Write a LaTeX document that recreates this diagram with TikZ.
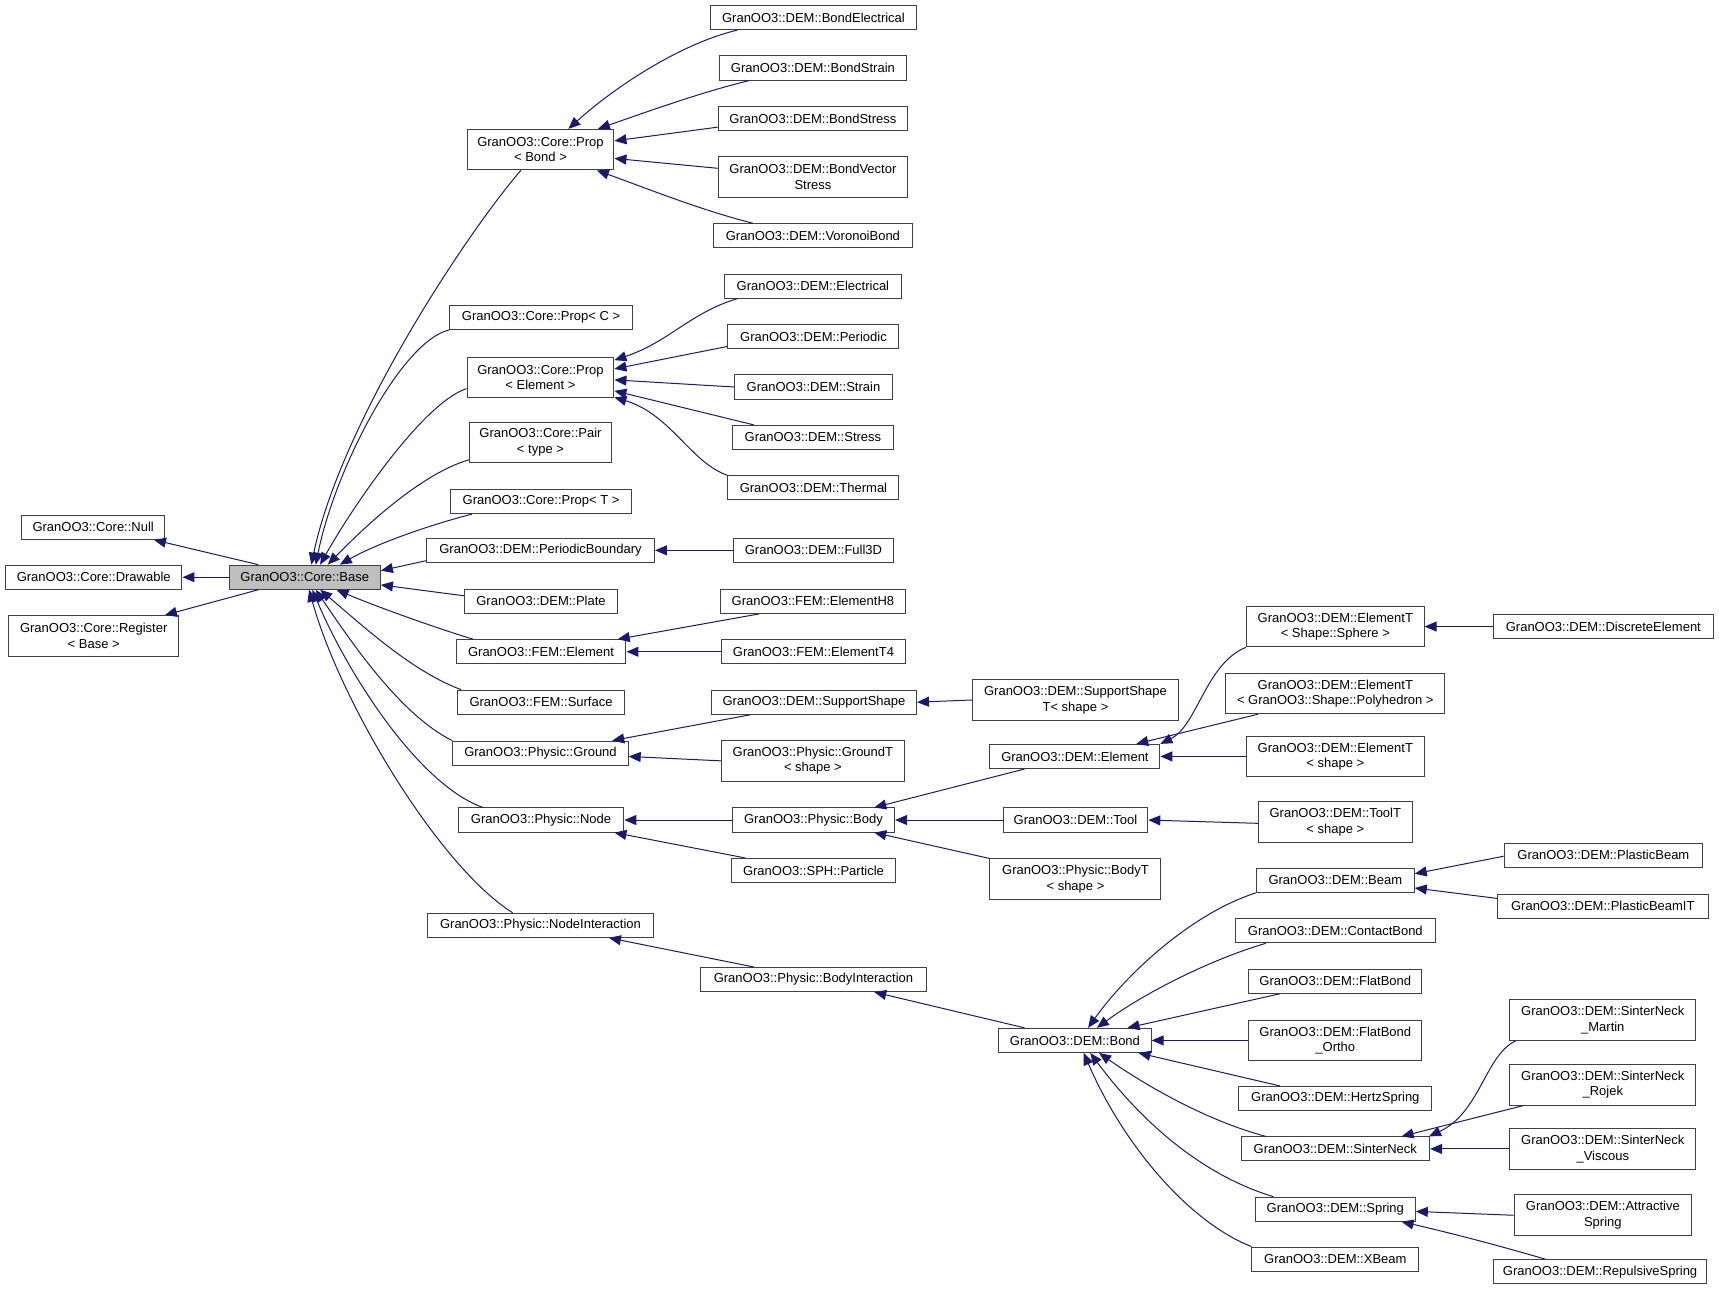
\documentclass[tikz,border=0pt]{standalone}
\usepackage{fontspec}
\setmainfont{Liberation Sans}
\usetikzlibrary{arrows.meta,calc}
\definecolor{edgec}{HTML}{191970}
\definecolor{boxc}{HTML}{404040}
\definecolor{basefill}{HTML}{BFBFBF}
\begin{document}
\begin{tikzpicture}[x=0.8224pt,y=-0.8224pt,
  cls/.style={draw=boxc, line width=0.75pt, fill=white, inner sep=0pt, align=center,
    font=\fontsize{9.75}{11.6}\selectfont, minimum height=22*0.8224pt},
  two/.style={minimum height=37*0.8224pt},
  bw/.style={minimum width=#1*0.8224pt},
  conn/.style={draw=edgec, line width=0.75pt, -{Triangle[length=9pt,width=7.5pt]}}]
\fill[white] (0,0) rectangle (1568,1181);
\useasboundingbox (0,0) rectangle (1568,1181);

% column 0
\node[cls,bw=130] (Null) at (85,481) {GranOO3::Core::Null};
\node[cls,bw=161] (Drawable) at (85.5,526.5) {GranOO3::Core::Drawable};
\node[cls,two,bw=155] (Register) at (85.5,580) {GranOO3::Core::Register\\< Base >};
% column 1
\node[cls,bw=138,fill=basefill] (Base) at (278,526.5) {GranOO3::Core::Base};
% column 2
\node[cls,two,bw=134] (PropBond) at (493,136.5) {GranOO3::Core::Prop\\< Bond >};
\node[cls,bw=167] (PropC) at (493.5,289.5) {GranOO3::Core::Prop< C >};
\node[cls,two,bw=134] (PropElement) at (493,344.5) {GranOO3::Core::Prop\\< Element >};
\node[cls,two,bw=130] (Pair) at (493,403.5) {GranOO3::Core::Pair\\< type >};
\node[cls,bw=165] (PropT) at (493.5,457.5) {GranOO3::Core::Prop< T >};
\node[cls,bw=208] (PeriodicBoundary) at (493,502) {GranOO3::DEM::PeriodicBoundary};
\node[cls,bw=139] (Plate) at (493.5,548.5) {GranOO3::DEM::Plate};
\node[cls,bw=155] (FEMElement) at (493.5,594.5) {GranOO3::FEM::Element};
\node[cls,bw=153] (FEMSurface) at (493.5,640.5) {GranOO3::FEM::Surface};
\node[cls,bw=160] (Ground) at (493,687) {GranOO3::Physic::Ground};
\node[cls,bw=151] (Node) at (493.5,748) {GranOO3::Physic::Node};
\node[cls,bw=206] (NodeInteraction) at (493,844) {GranOO3::Physic::NodeInteraction};
% column 3
\node[cls,bw=188] (BondElectrical) at (742,16) {GranOO3::DEM::BondElectrical};
\node[cls,bw=171] (BondStrain) at (741.5,62) {GranOO3::DEM::BondStrain};
\node[cls,bw=173] (BondStress) at (741.5,108) {GranOO3::DEM::BondStress};
\node[cls,two,bw=173] (BondVectorStress) at (741.5,161.5) {GranOO3::DEM::BondVector\\Stress};
\node[cls,bw=181] (VoronoiBond) at (741.5,215) {GranOO3::DEM::VoronoiBond};
\node[cls,bw=161] (Electrical) at (741.5,261) {GranOO3::DEM::Electrical};
\node[cls,bw=156] (Periodic) at (742,307) {GranOO3::DEM::Periodic};
\node[cls,bw=144] (Strain) at (742,353) {GranOO3::DEM::Strain};
\node[cls,bw=147] (Stress) at (741.5,399) {GranOO3::DEM::Stress};
\node[cls,bw=156] (Thermal) at (742,445) {GranOO3::DEM::Thermal};
\node[cls,bw=146] (Full3D) at (742,502) {GranOO3::DEM::Full3D};
\node[cls,bw=169] (ElementH8) at (741.5,548.5) {GranOO3::FEM::ElementH8};
\node[cls,bw=168] (ElementT4) at (742,594.5) {GranOO3::FEM::ElementT4};
\node[cls,bw=187] (SupportShape) at (742.5,640.5) {GranOO3::DEM::SupportShape};
\node[cls,two,bw=167] (GroundT) at (741.5,694) {GranOO3::Physic::GroundT\\< shape >};
\node[cls,bw=148] (Body) at (742,748) {GranOO3::Physic::Body};
\node[cls,bw=150] (Particle) at (742,794) {GranOO3::SPH::Particle};
\node[cls,bw=206] (BodyInteraction) at (742,893.5) {GranOO3::Physic::BodyInteraction};
% column 4
\node[cls,two,bw=188] (SupportShapeT) at (981,638.5) {GranOO3::DEM::SupportShape\\T< shape >};
\node[cls,bw=155] (DEMElement) at (980.5,690) {GranOO3::DEM::Element};
\node[cls,bw=132] (Tool) at (981,748) {GranOO3::DEM::Tool};
\node[cls,two,bw=156] (BodyT) at (981,802) {GranOO3::Physic::BodyT\\< shape >};
\node[cls,bw=139] (Bond) at (980.5,949) {GranOO3::DEM::Bond};
% column 5
\node[cls,two,bw=162] (ElementTSphere) at (1218,571.5) {GranOO3::DEM::ElementT\\< Shape::Sphere >};
\node[cls,two,bw=200] (ElementTPoly) at (1218,632.5) {GranOO3::DEM::ElementT\\< GranOO3::Shape::Polyhedron >};
\node[cls,two,bw=162] (ElementTshape) at (1218,690) {GranOO3::DEM::ElementT\\< shape >};
\node[cls,two,bw=140] (ToolT) at (1218,750) {GranOO3::DEM::ToolT\\< shape >};
\node[cls,bw=144] (Beam) at (1218,803) {GranOO3::DEM::Beam};
\node[cls,bw=182] (ContactBond) at (1218,849) {GranOO3::DEM::ContactBond};
\node[cls,bw=158] (FlatBond) at (1218,895) {GranOO3::DEM::FlatBond};
\node[cls,two,bw=158] (FlatBondOrtho) at (1218,949) {GranOO3::DEM::FlatBond\\\_Ortho};
\node[cls,bw=176] (HertzSpring) at (1218,1002) {GranOO3::DEM::HertzSpring};
\node[cls,bw=172] (SinterNeck) at (1218,1048) {GranOO3::DEM::SinterNeck};
\node[cls,bw=146] (Spring) at (1218,1103) {GranOO3::DEM::Spring};
\node[cls,bw=152] (XBeam) at (1218,1148.5) {GranOO3::DEM::XBeam};
% column 6
\node[cls,bw=201] (DiscreteElement) at (1462.5,571.5) {GranOO3::DEM::DiscreteElement};
\node[cls,bw=181] (PlasticBeam) at (1462.5,780) {GranOO3::DEM::PlasticBeam};
\node[cls,bw=192] (PlasticBeamIT) at (1462,826.5) {GranOO3::DEM::PlasticBeamIT};
\node[cls,two,bw=170] (SinterNeckMartin) at (1462,930.5) {GranOO3::DEM::SinterNeck\\\_Martin};
\node[cls,two,bw=170] (SinterNeckRojek) at (1462,989.5) {GranOO3::DEM::SinterNeck\\\_Rojek};
\node[cls,two,bw=170] (SinterNeckViscous) at (1462,1048) {GranOO3::DEM::SinterNeck\\\_Viscous};
\node[cls,two,bw=162] (AttractiveSpring) at (1462,1108.5) {GranOO3::DEM::Attractive\\Spring};
\node[cls,bw=195] (RepulsiveSpring) at (1459.5,1160) {GranOO3::DEM::RepulsiveSpring};

% edges into Base
\draw[conn] ($(Base.north west)+(27,0)$) -- ($(Null.south east)+(-10,0)$);
\draw[conn] (Base.west) -- (Drawable.east);
\draw[conn] ($(Base.south west)+(27,0)$) -- ($(Register.north east)+(-13,0)$);
\draw[conn] ($(PropBond.south)+(-18,0)$) .. controls (420,220) and (310,390) .. ($(Base.north)+(6,0)$);
\draw[conn] (PropC.south west) .. controls (365,312) and (305,430) .. ($(Base.north)+(10,0)$);
\draw[conn] ($(PropElement.west)+(0,10)$) .. controls (385,368) and (320,465) .. ($(Base.north)+(14,0)$);
\draw[conn] ($(Pair.south west)+(0,-3)$) .. controls (385,432) and (335,478) .. ($(Base.north)+(21,0)$);
\draw[conn] ($(PropT.south west)+(20,0)$) .. controls (395,478) and (345,495) .. ($(Base.north)+(32,0)$);
\draw[conn] ($(PeriodicBoundary.south west)+(0,-2)$) -- ($(Base.east)+(0,-6)$);
\draw[conn] ($(Plate.west)+(0,-5)$) -- ($(Base.east)+(0,7)$);
\draw[conn] ($(FEMElement.north west)+(16,0)$) .. controls (395,572) and (340,552) .. ($(Base.south)+(29,0)$);
\draw[conn] ($(FEMSurface.north west)+(4,0)$) .. controls (375,612) and (330,570) .. ($(Base.south)+(14,0)$);
\draw[conn] (Ground.north west) .. controls (365,652) and (320,585) .. ($(Base.south)+(10,0)$);
\draw[conn] ($(Node.north west)+(23,0)$) .. controls (380,715) and (315,610) .. ($(Base.south)+(7,0)$);
\draw[conn] ($(NodeInteraction.north west)+(78,0)$) .. controls (400,790) and (310,640) .. ($(Base.south)+(4,0)$);

% Prop<Bond>
\draw[conn] ($(BondElectrical.south west)+(25,0)$) .. controls (620,40) and (560,80) .. ($(PropBond.north east)+(-42,0)$);
\draw[conn] ($(BondStrain.south west)+(28,0)$) .. controls (640,84) and (590,102) .. ($(PropBond.north east)+(-15,0)$);
\draw[conn] ($(BondStress.west)+(0,8)$) -- ($(PropBond.east)+(0,-8)$);
\draw[conn] ($(BondVectorStress.west)+(0,-8)$) -- ($(PropBond.east)+(0,8)$);
\draw[conn] ($(VoronoiBond.north west)+(36,0)$) .. controls (640,192) and (585,170) .. ($(PropBond.south east)+(-16,0)$);

% Prop<Element>
\draw[conn] ($(Electrical.south west)+(12,0)$) .. controls (630,285) and (610,312) .. ($(PropElement.east)+(0,-16)$);
\draw[conn] ($(Periodic.west)+(0,9)$) -- ($(PropElement.east)+(0,-8)$);
\draw[conn] (Strain.west) -- ($(PropElement.east)+(0,2)$);
\draw[conn] ($(Stress.north west)+(20,0)$) -- ($(PropElement.east)+(0,12)$);
\draw[conn] (Thermal.north west) .. controls (630,422) and (612,378) .. ($(PropElement.south east)+(0,-1)$);

\draw[conn] (Full3D.west) -- (PeriodicBoundary.east);
\draw[conn] ($(ElementH8.south west)+(36,0)$) -- ($(FEMElement.north east)+(-8,0)$);
\draw[conn] (ElementT4.west) -- (FEMElement.east);
\draw[conn] ($(SupportShape.south west)+(36,0)$) -- ($(Ground.north east)+(-15,0)$);
\draw[conn] (GroundT.west) -- ($(Ground.east)+(0,3)$);
\draw[conn] (Body.west) -- (Node.east);
\draw[conn] ($(Particle.north west)+(13,0)$) -- ($(Node.south east)+(-9,0)$);
\draw[conn] ($(BodyInteraction.north west)+(49,0)$) -- ($(NodeInteraction.south east)+(-41,0)$);
\draw[conn] (SupportShapeT.west) -- (SupportShape.east);

% Body
\draw[conn] ($(DEMElement.south west)+(32,0)$) -- ($(Body.north east)+(-19,0)$);
\draw[conn] (Tool.west) -- (Body.east);
\draw[conn] (BodyT.north west) -- ($(Body.south east)+(-19,0)$);
\draw[conn] ($(ToolT.west)+(0,1)$) -- (Tool.east);
\draw[conn] ($(Bond.north west)+(24,0)$) -- ($(BodyInteraction.south east)+(-48,0)$);

% DEM::Element
\draw[conn] (ElementTSphere.south west) .. controls (1100,605) and (1092,662) .. (DEMElement.north east);
\draw[conn] ($(ElementTPoly.south west)+(30,0)$) -- ($(DEMElement.north east)+(-22,0)$);
\draw[conn] (ElementTshape.west) -- (DEMElement.east);
\draw[conn] (DiscreteElement.west) -- (ElementTSphere.east);

% Bond
\draw[conn] (Beam.south west) .. controls (1090,832) and (1030,885) .. ($(Bond.north)+(12,0)$);
\draw[conn] ($(ContactBond.south west)+(28,0)$) .. controls (1105,875) and (1045,905) .. ($(Bond.north)+(20,0)$);
\draw[conn] ($(FlatBond.south west)+(29,0)$) -- ($(Bond.north east)+(-22,0)$);
\draw[conn] (FlatBondOrtho.west) -- (Bond.east);
\draw[conn] ($(HertzSpring.north west)+(38,0)$) -- ($(Bond.south east)+(-12,0)$);
\draw[conn] ($(SinterNeck.north west)+(23,0)$) .. controls (1100,1022) and (1045,990) .. ($(Bond.south)+(22,0)$);
\draw[conn] ($(Spring.north west)+(17,0)$) .. controls (1090,1070) and (1035,1015) .. ($(Bond.south)+(14,0)$);
\draw[conn] (XBeam.north west) .. controls (1085,1115) and (1025,1045) .. ($(Bond.south)+(8,0)$);

% Beam, SinterNeck, Spring
\draw[conn] ($(PlasticBeam.west)+(0,1)$) -- ($(Beam.east)+(0,-6)$);
\draw[conn] ($(PlasticBeamIT.west)+(0,-7)$) -- ($(Beam.east)+(0,7)$);
\draw[conn] ($(SinterNeckMartin.south west)+(6,0)$) .. controls (1355,962) and (1350,1015) .. ($(SinterNeck.north east)+(-1,0)$);
\draw[conn] ($(SinterNeckRojek.south west)+(13,0)$) -- ($(SinterNeck.north east)+(-26,0)$);
\draw[conn] (SinterNeckViscous.west) -- (SinterNeck.east);
\draw[conn] (AttractiveSpring.west) -- ($(Spring.east)+(0,2)$);
\draw[conn] ($(RepulsiveSpring.north west)+(48,0)$) .. controls (1370,1137) and (1325,1125) .. ($(Spring.south east)+(-13,0)$);
\end{tikzpicture}
\end{document}
